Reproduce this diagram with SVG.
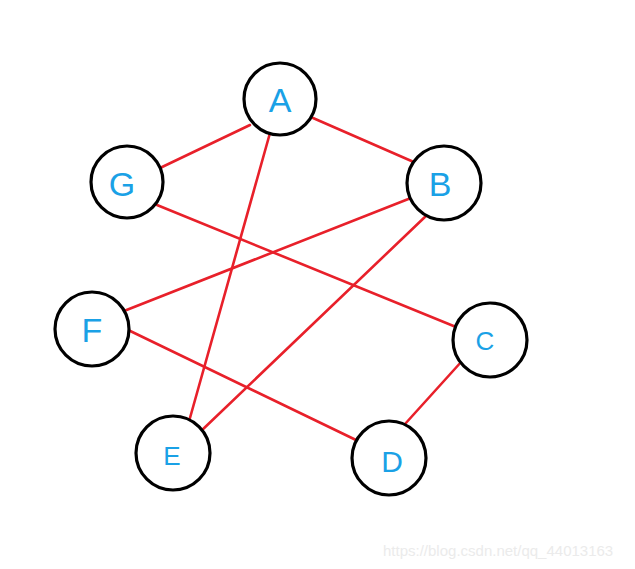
<svg xmlns="http://www.w3.org/2000/svg" width="635" height="569" viewBox="0 0 635 569">
<style>
.n circle{fill:#fff;stroke:#000;stroke-width:3.2}
.n text{font-family:"Liberation Sans",Arial,sans-serif;font-size:34px;fill:#1aa1e6;text-anchor:middle}
.e line{stroke:#e8202a;stroke-width:2.6;stroke-linecap:round}
.wm{font-family:"Liberation Sans",Arial,sans-serif;font-size:15px;fill:#ebebeb}
</style>
<rect width="635" height="569" fill="#fff"/>
<g id="edges" class="e">
<line x1="250" y1="125" x2="160" y2="168"/>
<line x1="313" y1="118" x2="416" y2="163"/>
<line x1="270" y1="133" x2="188" y2="425"/>
<line x1="157" y1="205" x2="456" y2="327"/>
<line x1="416" y1="196" x2="124" y2="311"/>
<line x1="427" y1="215" x2="200" y2="432"/>
<line x1="124" y1="328" x2="356" y2="440"/>
<line x1="462" y1="361" x2="405" y2="424"/>
</g>
<g id="A" class="n"><circle cx="280" cy="99" r="36"/><text x="280" y="112">A</text></g>
<g id="G" class="n"><circle cx="127" cy="182" r="36"/><text x="122" y="196">G</text></g>
<g id="B" class="n"><circle cx="444" cy="183" r="37"/><text x="440" y="196">B</text></g>
<g id="F" class="n"><circle cx="92" cy="329" r="37"/><text x="92" y="342">F</text></g>
<g id="C" class="n"><circle cx="490" cy="340" r="37"/><text x="485" y="350" style="font-size:26px">C</text></g>
<g id="E" class="n"><circle cx="173" cy="453" r="37"/><text x="172" y="465" style="font-size:26px">E</text></g>
<g id="D" class="n"><circle cx="389" cy="458" r="37"/><text x="392" y="472" style="font-size:30px">D</text></g>
<text class="wm" x="383" y="556">https://blog.csdn.net/qq_44013163</text>
</svg>
